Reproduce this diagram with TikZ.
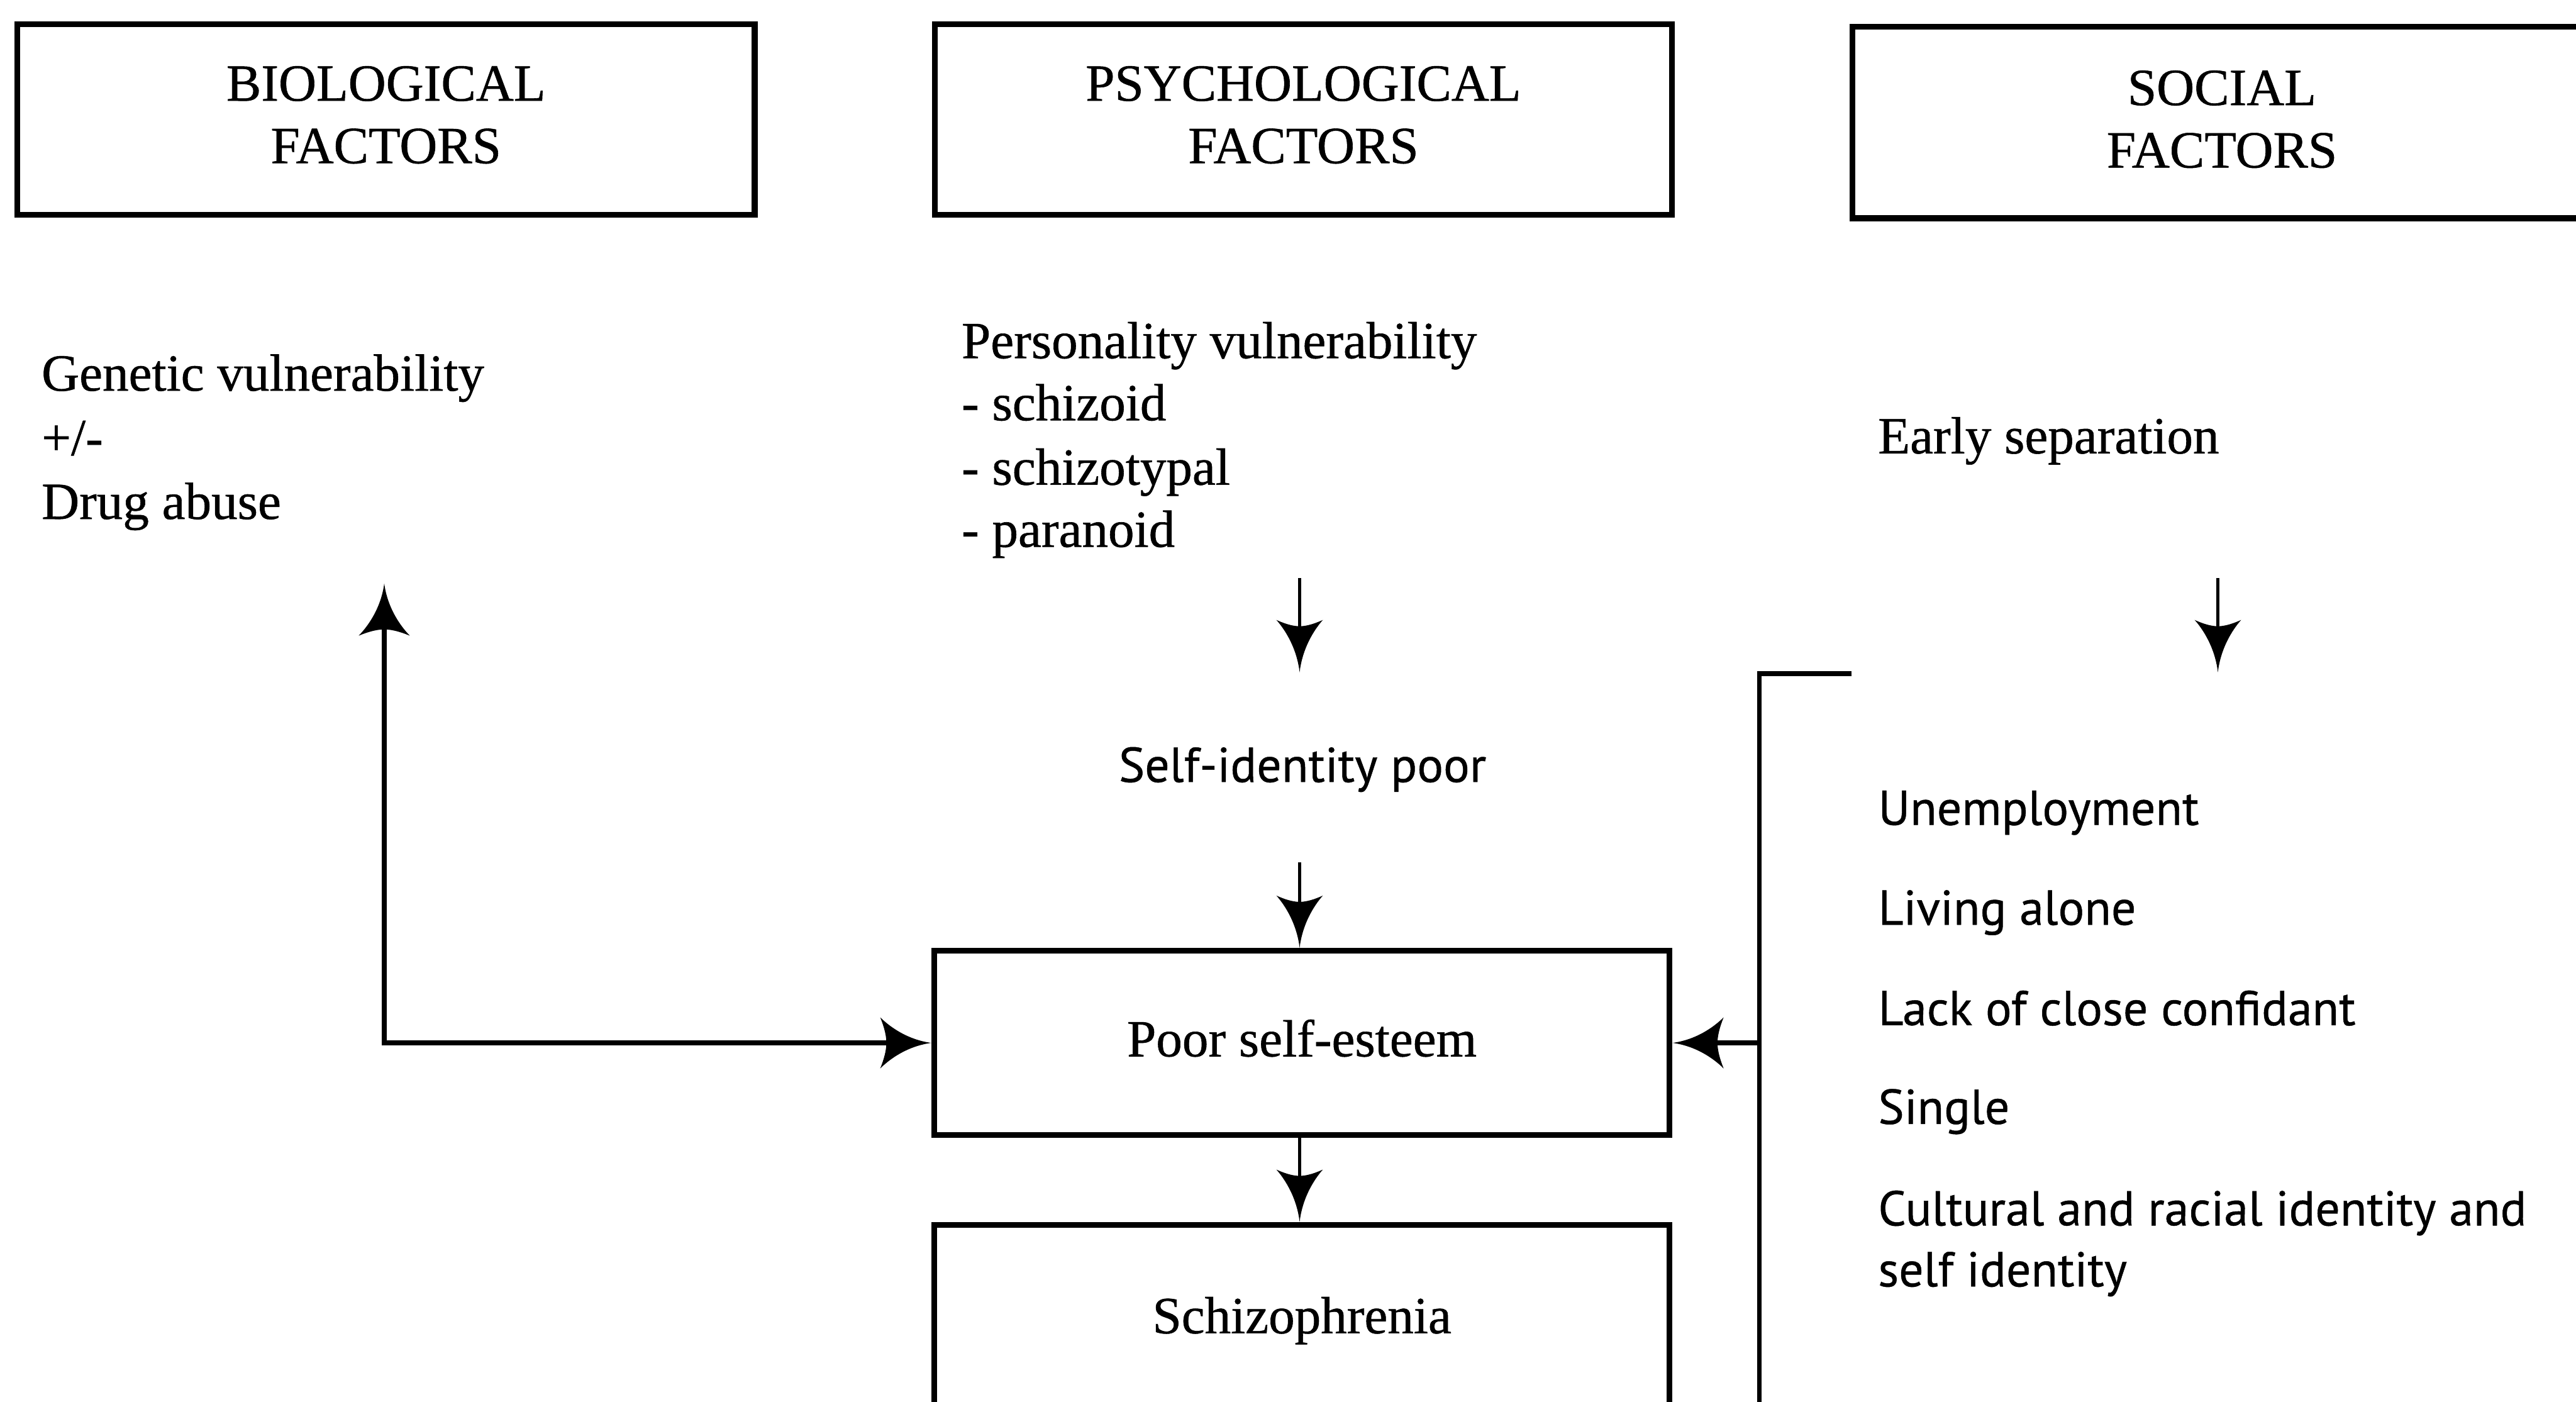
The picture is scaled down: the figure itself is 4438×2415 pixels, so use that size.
\documentclass[tikz,border=0pt]{standalone}
\usepackage{fontspec}
\setmainfont[FakeBold=0.7]{Liberation Serif}
\newfontfamily\optfont[FakeBold=0.6]{PT Sans}
\usetikzlibrary{arrows.meta}

\pgfdeclarearrow{
  name = Flare,
  parameters = {\the\pgfarrowlength,\the\pgfarrowwidth},
  setup code = {
    \pgfarrowssettipend{0pt}
    \pgfarrowssetbackend{-\pgfarrowlength}
    \pgfarrowssetlineend{-0.5\pgfarrowlength}
    \pgfarrowssavethe\pgfarrowlength
    \pgfarrowssavethe\pgfarrowwidth
  },
  drawing code = {
    \pgfpathmoveto{\pgfqpoint{0pt}{0pt}}
    \pgfpathcurveto{\pgfpoint{-0.45*\pgfarrowlength}{0.06*\pgfarrowwidth}}{\pgfpoint{-0.8*\pgfarrowlength}{0.3*\pgfarrowwidth}}{\pgfpoint{-1*\pgfarrowlength}{0.5*\pgfarrowwidth}}
    \pgfpathcurveto{\pgfpoint{-0.9*\pgfarrowlength}{0.25*\pgfarrowwidth}}{\pgfpoint{-0.88*\pgfarrowlength}{0.1*\pgfarrowwidth}}{\pgfpoint{-0.88*\pgfarrowlength}{0pt}}
    \pgfpathcurveto{\pgfpoint{-0.88*\pgfarrowlength}{-0.1*\pgfarrowwidth}}{\pgfpoint{-0.9*\pgfarrowlength}{-0.25*\pgfarrowwidth}}{\pgfpoint{-1*\pgfarrowlength}{-0.5*\pgfarrowwidth}}
    \pgfpathcurveto{\pgfpoint{-0.8*\pgfarrowlength}{-0.3*\pgfarrowwidth}}{\pgfpoint{-0.45*\pgfarrowlength}{-0.06*\pgfarrowwidth}}{\pgfqpoint{0pt}{0pt}}
    \pgfpathclose
    \pgfusepathqfill
  },
  defaults = {length = 0.85cm, width = 0.85cm}
}

\newcommand\myserif{\fontsize{25.6pt}{30.6pt}\selectfont}
\newcommand\mysans{\optfont\fontsize{24pt}{29pt}\selectfont}

\tikzset{
  fbox/.style={draw, line width=2.9pt, inner sep=0pt, align=center, font=\myserif},
  txt/.style={anchor=base west, inner sep=0pt, font=\myserif},
  stxt/.style={anchor=base west, inner sep=0pt, font=\mysans},
  conn/.style={line width=2.4pt},
  tip/.style={-{Flare[length=0.88cm,width=0.88cm]}},
  bothtips/.style={{Flare[length=0.9cm,width=0.88cm]}-{Flare[length=0.88cm,width=0.88cm]}},
  thinarrow/.style={line width=1.6pt, -{Flare[length=0.9cm,width=0.8cm]}}
}

\begin{document}
\begin{tikzpicture}[x=0.01cm,y=-0.01cm]
\useasboundingbox (0,0) rectangle (4438,2415);
\clip (0,0) rectangle (4438,2415);

% header boxes
\node[fbox, minimum width=12.70cm, minimum height=3.28cm, text depth=0.17cm] (bio) at (665,206) {BIOLOGICAL\\FACTORS};
\node[fbox, minimum width=12.69cm, minimum height=3.28cm, text depth=0.17cm] (psy) at (2245.5,206) {PSYCHOLOGICAL\\FACTORS};
\node[fbox, minimum width=12.72cm, minimum height=3.30cm, text depth=0.12cm] (soc) at (3828,211) {SOCIAL\\FACTORS};

% biological column
\node[txt] (gen) at (71,673) {Genetic vulnerability};
\node[txt] (pm) at (71,784) {+/-};
\node[txt] (drug) at (71,894) {Drug abuse};

% psychological column
\node[txt] (pers) at (1656,617) {Personality vulnerability};
\node[txt] (schd) at (1656,724) {- schizoid};
\node[txt] (scht) at (1656,835) {- schizotypal};
\node[txt] (para) at (1656,942) {- paranoid};
\node[stxt, anchor=base] (sid) at (2244,1347) {Self-identity poor};
\node[fbox, minimum width=12.66cm, minimum height=3.17cm, text depth=0.17cm] (poor) at (2243,1796.5) {Poor self-esteem};
\node[fbox, minimum width=12.66cm, minimum height=3.30cm] (sch) at (2243,2275) {Schizophrenia};

% social column
\node[txt] (early) at (3235,781) {Early separation};
\node[stxt] (unemp) at (3235,1421) {Unemployment};
\node[stxt] (alone) at (3235,1593) {Living alone};
\node[stxt] (lack) at (3235,1766) {Lack of close confidant};
\node[stxt] (single) at (3235,1936) {Single};
\node[stxt] (cult) at (3235,2111) {Cultural and racial identity and};
\node[stxt] (selfid) at (3235,2216) {self identity};

% connectors
\coordinate (a1s) at (2239,996);
\coordinate (a1e) at (2239,1158);
\draw[thinarrow] (a1s) -- (a1e);
\coordinate (a2s) at (2239,1486);
\draw[thinarrow] (a2s) -- (a2s |- poor.north);
\draw[thinarrow] (poor.south -| a2s) -- (sch.north -| a2s);
\coordinate (a3s) at (3821,996);
\coordinate (a3e) at (3821,1158);
\draw[thinarrow] (a3s) -- (a3e);

\coordinate (bioTip) at (662,1005);
\draw[conn, bothtips] (bioTip) |- (poor.west);

\coordinate (brTop) at (3190,1160);
\coordinate (brBot) at (3031,2500);
\draw[conn] (brTop) -- (brTop -| brBot) -- (brBot);
\draw[conn, tip] (brBot |- poor.east) -- (poor.east);
\end{tikzpicture}
\end{document}
